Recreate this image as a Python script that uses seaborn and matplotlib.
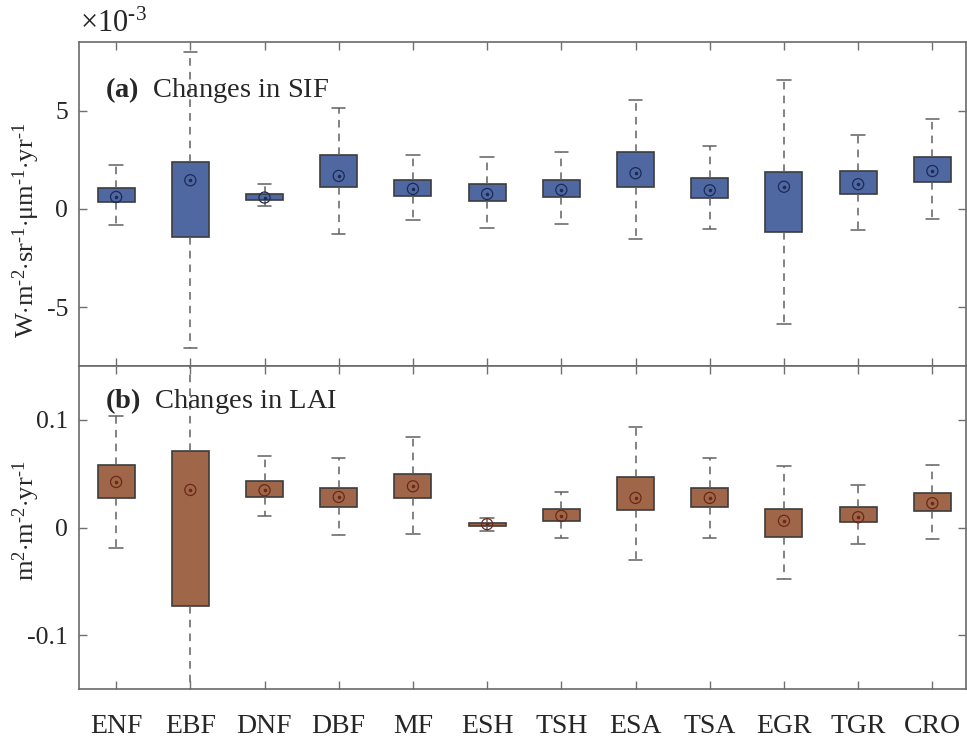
import matplotlib
matplotlib.use("Agg")
import matplotlib.pyplot as plt
import numpy as np
import pandas as pd
import seaborn as sns

# biome types on the x axis
biomes = ["ENF", "EBF", "DNF", "DBF", "MF", "ESH", "TSH", "ESA", "TSA", "EGR", "TGR", "CRO"]

# SIF changes, in units of 1e-3 W m-2 sr-1 um-1 yr-1
sif_low = [-0.81, -7.06, 0.14, -1.27, -0.58, -0.95, -0.78, -1.54, -1.03, -5.84, -1.07, -0.52]
sif_q1 = [0.34, -1.41, 0.46, 1.12, 0.66, 0.39, 0.59, 1.12, 0.54, -1.19, 0.75, 1.39]
sif_med = [0.61, 1.46, 0.58, 1.68, 1.02, 0.76, 0.97, 1.82, 0.95, 1.13, 1.26, 1.93]
sif_q3 = [1.08, 2.38, 0.78, 2.73, 1.49, 1.27, 1.49, 2.88, 1.58, 1.90, 1.92, 2.65]
sif_high = [2.25, 7.97, 1.27, 5.14, 2.75, 2.63, 2.88, 5.56, 3.19, 6.55, 3.75, 4.58]

# LAI changes, m2 m-2 yr-1 (EBF whiskers run past the axis limits)
lai_low = [-0.0189, -0.19, 0.0108, -0.0074, -0.0059, -0.0034, -0.0093, -0.0304, -0.0093, -0.048, -0.0155, -0.0105]
lai_q1 = [0.0272, -0.0731, 0.0279, 0.0195, 0.0272, 0.0015, 0.0062, 0.0161, 0.0186, -0.0087, 0.0049, 0.0149]
lai_med = [0.0423, 0.0349, 0.0346, 0.0284, 0.0383, 0.0031, 0.0108, 0.0275, 0.0275, 0.0062, 0.0096, 0.0226]
lai_q3 = [0.0576, 0.0706, 0.0430, 0.0371, 0.0498, 0.0046, 0.0173, 0.0470, 0.0365, 0.0176, 0.0189, 0.0319]
lai_high = [0.1036, 0.19, 0.0665, 0.0641, 0.0838, 0.0089, 0.0331, 0.0934, 0.0643, 0.0572, 0.0393, 0.0579]

sns.set_theme(style="ticks")
plt.rcParams["font.family"] = ["Liberation Serif", "DejaVu Serif"]
plt.rcParams["mathtext.fontset"] = "custom"
plt.rcParams["mathtext.rm"] = "Liberation Serif"
plt.rcParams["mathtext.it"] = "Liberation Serif:italic"
plt.rcParams["mathtext.bf"] = "Liberation Serif:bold"
plt.rcParams["axes.unicode_minus"] = False


def to_long(low, q1, med, q3, high):
    # five points per biome -> quartiles of the points are exactly the box edges
    rows = []
    for i, b in enumerate(biomes):
        for v in (low[i], q1[i], med[i], q3[i], high[i]):
            rows.append({"biome": b, "value": v})
    return pd.DataFrame(rows)


def draw_panel(ax, df, med, fill, mcolor):
    sns.boxplot(
        data=df, x="biome", y="value", order=biomes, ax=ax,
        whis=(0, 100), width=0.5, color=fill, linecolor="#3c3c3c",
        linewidth=1.2, saturation=1, showfliers=False,
        medianprops={"visible": False},
        whiskerprops={"color": "#606060", "linestyle": (0, (5, 4)), "linewidth": 1.1},
        capprops={"color": "#606060", "linewidth": 1.1},
        capwidths=0.18,
    )
    med_df = pd.DataFrame({"biome": biomes, "value": med})
    n0 = len(ax.collections)
    sns.stripplot(data=med_df, x="biome", y="value", order=biomes, ax=ax,
                  jitter=False, size=8, color=mcolor, linewidth=0.9, zorder=5)
    # open rings around the median
    for c in ax.collections[n0:]:
        c.set_facecolor("none")
        c.set_edgecolor(mcolor)
    sns.stripplot(data=med_df, x="biome", y="value", order=biomes, ax=ax,
                  jitter=False, size=2.6, color=mcolor, linewidth=0, zorder=6)
    ax.set_xlim(-0.5, 11.45)
    ax.set_xlabel("")
    ax.tick_params(axis="both", direction="in", length=6, width=1,
                   color="#707070", top=True, right=True, pad=8)
    ax.tick_params(axis="y", labelsize=18.5)
    ax.tick_params(axis="x", labelsize=20)
    for s in ax.spines.values():
        s.set_color("#6a6a6a")
        s.set_linewidth(1.2)


fig = plt.figure(figsize=(9.67, 7.4), dpi=100)
ax1 = fig.add_axes([0.0817, 0.5054, 0.9170, 0.4378])
ax2 = fig.add_axes([0.0817, 0.0689, 0.9170, 0.4365])

draw_panel(ax1, to_long(sif_low, sif_q1, sif_med, sif_q3, sif_high), sif_med, "#5068a2", "#1c2a55")
ax1.set_ylim(-8, 8.5)
ax1.set_yticks([-5, 0, 5])
ax1.set_yticklabels(["-5", "0", "5"])
ax1.tick_params(axis="x", labelbottom=False)
ax1.set_ylabel(r"$\mathrm{W{\cdot}m^{‐2}{\cdot}sr^{‐1}{\cdot}μm^{‐1}{\cdot}yr^{‐1}}$", fontsize=19)
ax1.yaxis.set_label_coords(-0.042, 0.42)
ax1.text(0.001, 1.008, r"$\times10^{‐3}$", transform=ax1.transAxes, fontsize=22, ha="left", va="bottom")
ax1.text(0.029, 0.83, r"$\mathbf{(a)}$  Changes in SIF", transform=ax1.transAxes, fontsize=20.5, ha="left", va="baseline")

draw_panel(ax2, to_long(lai_low, lai_q1, lai_med, lai_q3, lai_high), lai_med, "#a0664a", "#6a2818")
ax2.set_ylim(-0.15, 0.15)
ax2.set_yticks([-0.1, 0, 0.1])
ax2.set_yticklabels(["-0.1", "0", "0.1"])
ax2.set_ylabel(r"$\mathrm{m^{2}{\cdot}m^{‐2}{\cdot}yr^{‐1}}$", fontsize=19)
ax2.yaxis.set_label_coords(-0.042, 0.52)
ax2.tick_params(axis="x", pad=18)
ax2.text(0.029, 0.87, r"$\mathbf{(b)}$  Changes in LAI", transform=ax2.transAxes, fontsize=20.5, ha="left", va="baseline")

fig.savefig("out.png", dpi=100)
